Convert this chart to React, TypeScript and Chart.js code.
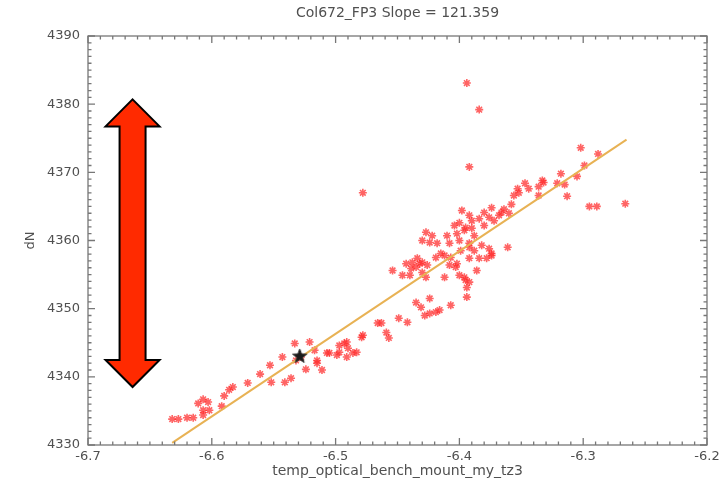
import React, { useEffect, useRef } from "react";
import { Chart, registerables } from "chart.js";

Chart.register(...registerables);

const titleText = "Col672_FP3 Slope = 121.359";
const xTitle = "temp_optical_bench_mount_my_tz3";
const yTitle = "dN";

const xTicks = [-6.7, -6.6, -6.5, -6.4, -6.3, -6.2];
const yTicks = [4330, 4340, 4350, 4360, 4370, 4380, 4390];

// measured points: temperature (x) and dN (y)
const tempX = [
  -6.632, -6.627, -6.615, -6.611, -6.607, -6.603, -6.607, -6.602, -6.607, -6.592,
  -6.586, -6.583, -6.571, -6.561, -6.553, -6.552, -6.541, -6.536, -6.543, -6.533,
  -6.521, -6.528, -6.524, -6.515, -6.511, -6.505, -6.499, -6.493, -6.491, -6.532,
  -6.515, -6.507, -6.497, -6.49, -6.486, -6.491, -6.479, -6.466, -6.459, -6.457,
  -6.483, -6.478, -6.463, -6.59, -6.62,
  -6.442, -6.435, -6.424, -6.431, -6.424, -6.419, -6.407, -6.394, -6.428, -6.416,
  -6.446, -6.454, -6.427, -6.438, -6.443, -6.435, -6.432, -6.43, -6.44, -6.43,
  -6.412, -6.403, -6.4, -6.402, -6.396, -6.395, -6.394, -6.392, -6.386, -6.412,
  -6.407, -6.415, -6.392, -6.384, -6.378, -6.374, -6.427, -6.43, -6.424, -6.422,
  -6.41, -6.4, -6.408, -6.392, -6.392, -6.382, -6.376, -6.361, -6.398, -6.4,
  -6.395, -6.384, -6.376, -6.368, -6.374, -6.396, -6.402, -6.364, -6.358, -6.356,
  -6.353, -6.347, -6.336, -6.333, -6.321, -6.315, -6.318, -6.305, -6.302, -6.288,
  -6.299, -6.313, -6.295, -6.289, -6.266, -6.336, -6.36, -6.39, -6.39, -6.374,
  -6.332, -6.366, -6.419, -6.399, -6.388, -6.38,
  -6.434, -6.439, -6.426, -6.404, -6.392, -6.38, -6.372, -6.352, -6.344, -6.449,
  -6.388, -6.418, -6.408, -6.497, -6.517,
  -6.394, -6.384, -6.392, -6.478,
];
const dN = [
  4333.8, 4333.8, 4334.0, 4336.1, 4336.7, 4336.3, 4335.1, 4335.1, 4334.4, 4335.7,
  4338.1, 4338.5, 4339.1, 4340.4, 4341.7, 4339.2, 4339.2, 4339.8, 4342.9, 4344.9,
  4345.1, 4342.9, 4341.1, 4342.4, 4341.0, 4343.5, 4343.2, 4344.9, 4342.9, 4342.4,
  4342.0, 4343.5, 4343.6, 4344.2, 4343.5, 4345.1, 4345.8, 4347.9, 4346.5, 4345.7,
  4343.6, 4346.1, 4347.9, 4337.2, 4334.0,
  4348.0, 4350.9, 4351.5, 4350.2, 4349.3, 4349.5, 4350.5, 4351.7, 4349.0, 4349.8,
  4354.9, 4355.6, 4354.6, 4356.8, 4356.6, 4356.1, 4356.6, 4356.8, 4354.9, 4355.3,
  4354.6, 4356.1, 4354.9, 4356.6, 4354.6, 4354.2, 4353.1, 4353.9, 4355.6, 4357.8,
  4357.5, 4358.1, 4357.4, 4357.4, 4357.4, 4358.1, 4361.2, 4360.0, 4359.7, 4360.7,
  4360.7, 4360.0, 4359.6, 4359.6, 4359.0, 4359.3, 4358.8, 4359.0, 4364.4, 4362.6,
  4361.9, 4363.2, 4363.4, 4363.7, 4364.8, 4361.5, 4361.0, 4364.6, 4365.3, 4366.6,
  4367.6, 4368.4, 4367.9, 4368.8, 4368.4, 4368.2, 4369.8, 4369.4, 4373.6, 4372.7,
  4371.0, 4366.5, 4365.0, 4365.0, 4365.4, 4366.6, 4364.0, 4362.9, 4361.8, 4357.8,
  4368.5, 4364.1, 4357.5, 4358.5, 4360.7, 4362.2,
  4357.4, 4355.9, 4356.4, 4362.2, 4363.7, 4364.1, 4362.9, 4367.0, 4367.6, 4348.6,
  4358.5, 4359.6, 4356.4, 4344.6, 4343.9,
  4383.1, 4379.2, 4370.8, 4367.0,
];

// fitted line end points
const fitX = [-6.632, -6.265];
const fitY = [4330.3, 4374.8];

// highlighted reference point
const markX = [-6.529];
const markY = [4343.0];

// double arrow annotation (data units)
const arrowX = -6.664;
const arrowTop = 4380.7;
const arrowBottom = 4338.5;

const FONT = "'DejaVu Sans', 'Liberation Sans', sans-serif";
const TEXT = "#505050";

function makeStar(size: number) {
  const c = document.createElement("canvas");
  c.width = size;
  c.height = size;
  const g = c.getContext("2d")!;
  const cx = size / 2;
  const cy = size / 2;
  const R = size / 2 - 1;
  const r = R * 0.42;
  g.beginPath();
  for (let i = 0; i < 10; i++) {
    const ang = -Math.PI / 2 + (i * Math.PI) / 5;
    const rad = i % 2 ? r : R;
    g.lineTo(cx + rad * Math.cos(ang), cy + rad * Math.sin(ang));
  }
  g.closePath();
  g.fillStyle = "#1a1a1a";
  g.fill();
  g.strokeStyle = "#333";
  g.lineWidth = 1;
  g.stroke();
  return c;
}

const framePlugin = {
  id: "frame",
  afterDraw(chart: any) {
    const { ctx, chartArea, scales } = chart;
    const { left, right, top, bottom } = chartArea;
    const xs = scales.x;
    const ys = scales.y;
    ctx.save();

    // double arrow
    const ax = xs.getPixelForValue(arrowX);
    const at = ys.getPixelForValue(arrowTop);
    const ab = ys.getPixelForValue(arrowBottom);
    const headW = 27;
    const headH = 27;
    const shaftW = 13;
    ctx.beginPath();
    ctx.moveTo(ax, at);
    ctx.lineTo(ax + headW, at + headH);
    ctx.lineTo(ax + shaftW, at + headH);
    ctx.lineTo(ax + shaftW, ab - headH);
    ctx.lineTo(ax + headW, ab - headH);
    ctx.lineTo(ax, ab);
    ctx.lineTo(ax - headW, ab - headH);
    ctx.lineTo(ax - shaftW, ab - headH);
    ctx.lineTo(ax - shaftW, at + headH);
    ctx.lineTo(ax - headW, at + headH);
    ctx.closePath();
    ctx.fillStyle = "#ff2a00";
    ctx.fill();
    ctx.lineWidth = 2;
    ctx.lineJoin = "miter";
    ctx.strokeStyle = "#000";
    ctx.stroke();

    // axis box and inward ticks
    ctx.strokeStyle = "#777";
    ctx.lineWidth = 1.3;
    ctx.strokeRect(left, top, right - left, bottom - top);
    ctx.beginPath();
    const yMin = yTicks[0];
    const yMax = yTicks[yTicks.length - 1];
    for (let v = yMin; v <= yMax; v += 1) {
      const py = ys.getPixelForValue(v);
      const L = (v - yMin) % 10 === 0 ? 7 : 3.5;
      ctx.moveTo(left, py);
      ctx.lineTo(left + L, py);
      ctx.moveTo(right, py);
      ctx.lineTo(right - L, py);
    }
    const xMin = xTicks[0];
    const nx = Math.round((xTicks[xTicks.length - 1] - xMin) / 0.01);
    for (let i = 0; i <= nx; i++) {
      const px = xs.getPixelForValue(xMin + i * 0.01);
      const L = i % 10 === 0 ? 7 : 3.5;
      ctx.moveTo(px, bottom);
      ctx.lineTo(px, bottom - L);
      ctx.moveTo(px, top);
      ctx.lineTo(px, top + L);
    }
    ctx.stroke();

    // titles
    ctx.fillStyle = TEXT;
    ctx.textAlign = "center";
    ctx.textBaseline = "middle";
    ctx.font = `14px ${FONT}`;
    ctx.fillText(titleText, (left + right) / 2, 13);
    ctx.fillText(xTitle, (left + right) / 2, 471);
    ctx.save();
    ctx.translate(31, (top + bottom) / 2);
    ctx.rotate(-Math.PI / 2);
    ctx.font = `13px ${FONT}`;
    ctx.fillText(yTitle, 0, 0);
    ctx.restore();

    ctx.restore();
  },
};

export default function App() {
  const ref = useRef<HTMLCanvasElement | null>(null);

  useEffect(() => {
    if (!ref.current) return;
    const starImg = makeStar(17);
    const chart = new Chart(ref.current, {
      type: "scatter",
      data: {
        datasets: [
          {
            type: "line",
            data: fitX.map((x, i) => ({ x, y: fitY[i] })),
            borderColor: "rgb(232,178,84)",
            borderWidth: 2,
            pointRadius: 0,
            fill: false,
            order: 1,
          } as any,
          {
            data: tempX.map((x, i) => ({ x, y: dN[i] })),
            pointStyle: "star",
            pointRadius: 4,
            borderColor: "rgba(255,40,40,0.72)",
            backgroundColor: "rgba(255,40,40,0.72)",
            borderWidth: 1.6,
            order: 2,
          },
          {
            data: markX.map((x, i) => ({ x, y: markY[i] })),
            pointStyle: starImg as any,
            pointRadius: 8,
            order: 0,
          },
        ],
      },
      options: {
        responsive: false,
        animation: false,
        layout: { padding: { left: 0, top: 36, right: 21, bottom: 0 } },
        plugins: {
          legend: { display: false },
          title: { display: false },
          tooltip: { enabled: false },
        },
        scales: {
          x: {
            type: "linear",
            min: xTicks[0],
            max: xTicks[xTicks.length - 1],
            grid: { display: false, drawTicks: false },
            border: { display: false },
            afterBuildTicks: (s: any) => {
              s.ticks = xTicks.map((v) => ({ value: v }));
            },
            afterFit: (s: any) => {
              s.height = 37;
            },
            ticks: {
              padding: 4,
              color: TEXT,
              font: { family: FONT, size: 13 },
              maxRotation: 0,
              autoSkip: false,
              callback: (v: any) => Number(v).toFixed(1),
            },
          },
          y: {
            type: "linear",
            min: yTicks[0],
            max: yTicks[yTicks.length - 1],
            grid: { display: false, drawTicks: false },
            border: { display: false },
            afterBuildTicks: (s: any) => {
              s.ticks = yTicks.map((v) => ({ value: v }));
            },
            afterFit: (s: any) => {
              s.width = 88;
            },
            ticks: {
              padding: 8,
              color: TEXT,
              font: { family: FONT, size: 13 },
              autoSkip: false,
              callback: (v: any) => String(v),
            },
          },
        },
      },
      plugins: [framePlugin],
    });
    return () => chart.destroy();
  }, []);

  return (
    <div
      style={{
        position: "fixed",
        left: 0,
        top: 0,
        width: 728,
        height: 482,
        background: "#fff",
      }}
    >
      <canvas ref={ref} width={728} height={482} />
    </div>
  );
}
